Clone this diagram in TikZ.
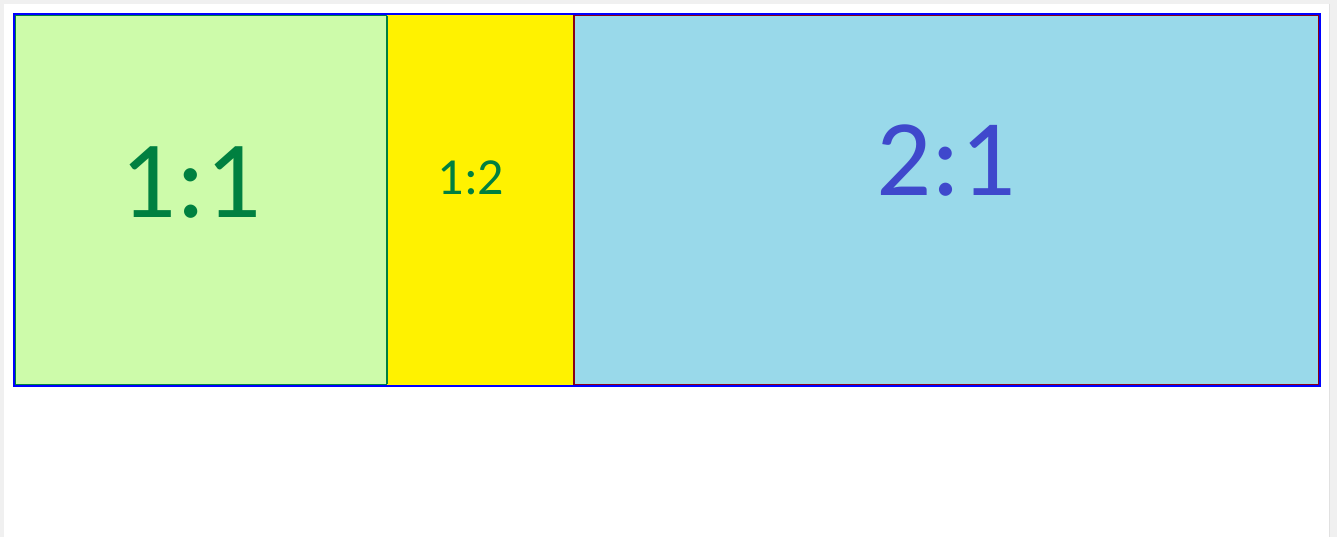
\documentclass[tikz,border=0pt]{standalone}
\usepackage{fontspec}
\setmainfont{Carlito}
\definecolor{frame}{RGB}{240,240,240}
\definecolor{frameline}{RGB}{225,225,225}
\definecolor{cellgreen}{RGB}{205,251,170}
\definecolor{cellyellow}{RGB}{255,242,0}
\definecolor{cellblue}{RGB}{153,217,234}
\definecolor{txtgreen}{RGB}{0,128,64}
\definecolor{txtblue}{RGB}{63,72,204}
\definecolor{darkred}{RGB}{136,0,21}
\definecolor{outerblue}{RGB}{0,0,255}
\begin{document}
\begin{tikzpicture}[x=1pt,y=-1pt,
  cell/.style={line width=1.1pt},
  lbl/.style={inner sep=0pt,anchor=center}]
\useasboundingbox (0,0) rectangle (1337,537);
% background frame
\fill[frame] (0,0) rectangle (1337,537);
\fill[white] (4,4) rectangle (1329,537);
\draw[frameline,line width=1pt] (1329.5,4) -- (1329.5,537);
% cells
\filldraw[cell,fill=cellgreen,draw=txtgreen] (15.6,15.6) rectangle (387,384.4);
\filldraw[cell,fill=cellyellow,draw=cellyellow] (387.6,15.6) rectangle (574,384.4);
\filldraw[cell,fill=cellblue,draw=darkred] (574,15.6) rectangle (1318.4,384.4);
\draw[txtgreen,line width=1.2pt] (387,15.6) -- (387,384.4);
% outer frame
\draw[outerblue,line width=2pt] (14,14) rectangle (1320,386);
% labels
\node[lbl,text=txtgreen,font=\fontsize{110}{110}\selectfont] (a) at (191,183) {\raisebox{0pt}[0.632em][0pt]{1:1}};
\node[lbl,text=txtgreen,font=\fontsize{52}{52}\selectfont] (b) at (471,178.5) {\raisebox{0pt}[0.632em][0pt]{1:2}};
\node[lbl,text=txtblue,font=\fontsize{109}{109}\selectfont] (c) at (946,161.5) {\raisebox{0pt}[0.632em][0pt]{2:1}};
\end{tikzpicture}
\end{document}
